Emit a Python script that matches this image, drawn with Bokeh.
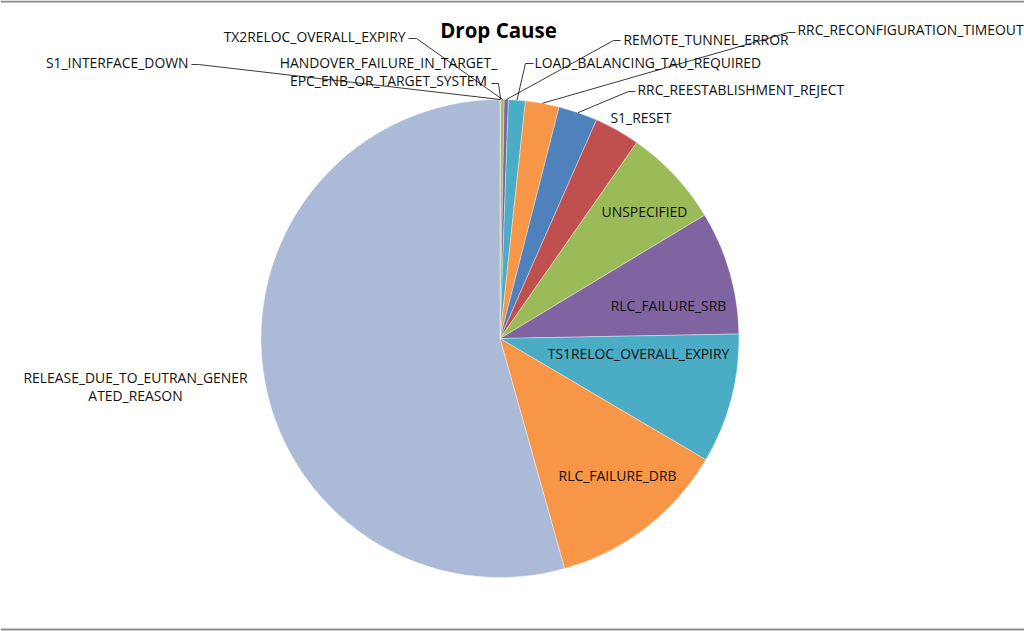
import numpy as np
from bokeh.plotting import figure
from bokeh.models import Range1d, ColumnDataSource
from bokeh.core.properties import value
from bokeh.embed import file_html
from bokeh.resources import INLINE

# ---- data (clockwise from 12 o'clock), share of drops in % ----
causes = [
    "S1_INTERFACE_DOWN",
    "HANDOVER_FAILURE_IN_TARGET_EPC_ENB_OR_TARGET_SYSTEM",
    "TX2RELOC_OVERALL_EXPIRY",
    "REMOTE_TUNNEL_ERROR",
    "LOAD_BALANCING_TAU_REQUIRED",
    "RRC_RECONFIGURATION_TIMEOUT",
    "RRC_REESTABLISHMENT_REJECT",
    "S1_RESET",
    "UNSPECIFIED",
    "RLC_FAILURE_SRB",
    "TS1RELOC_OVERALL_EXPIRY",
    "RLC_FAILURE_DRB",
    "RELEASE_DUE_TO_EUTRAN_GENERATED_REASON",
]
shares = [0.03, 0.03, 0.22, 0.28, 1.14, 2.28, 2.64, 3.08, 6.67, 8.33, 8.78, 12.17, 54.36]
colors = ["#4F81BD", "#C0504D", "#9BBB59", "#8064A2", "#4BACC6", "#F79646",
          "#4F81BD", "#C0504D", "#9BBB59", "#8064A2", "#4BACC6", "#F79646", "#AABAD7"]
title_text = "Drop Cause"

# ---- layout (screen pixels of the 1024x631 picture) ----
W, H = 1024, 631
CX, CY, R = 499.5, 338.0, 239.0
FONT = "Open Sans"
FS = "13.9px"

def Y(y):
    return -y

vals = np.array(shares, dtype=float)
frac = vals / vals.sum()
cum = np.concatenate([[0.0], np.cumsum(frac)])
start = np.pi / 2 - cum[:-1] * 2 * np.pi
end = np.pi / 2 - cum[1:] * 2 * np.pi
mid = (start + end) / 2

p = figure(width=W, height=H, output_backend="svg", toolbar_location=None,
           x_range=Range1d(0, W), y_range=Range1d(-H, 0),
           x_axis_location=None, y_axis_location=None, min_border=0,
           tools="")
p.grid.visible = False
p.outline_line_color = None
p.background_fill_color = "white"
p.border_fill_color = "white"

src = ColumnDataSource(dict(start=start, end=end, color=colors, cause=causes))
p.wedge(x=CX, y=Y(CY), radius=R, start_angle="start", end_angle="end",
        direction="clock", fill_color="color", line_color="white",
        line_width=0.6, line_alpha=0.6, source=src)

# labels: (cause index, lines, anchor x, anchor y of first line, align, leader points)
labels = [
    (0, ["S1_INTERFACE_DOWN"], 188, 62, "right", [(191, 64), (198, 64)]),
    (1, ["HANDOVER_FAILURE_IN_TARGET_", "EPC_ENB_OR_TARGET_SYSTEM"], 388, 62, "center",
     [(491, 83), (498, 83)]),
    (2, ["TX2RELOC_OVERALL_EXPIRY"], 405, 36, "right", [(408, 38), (416, 38)]),
    (3, ["REMOTE_TUNNEL_ERROR"], 623, 39, "left", [(620, 40), (613, 40)]),
    (4, ["LOAD_BALANCING_TAU_REQUIRED"], 534, 62, "left", [(533, 63), (525, 63)]),
    (5, ["RRC_RECONFIGURATION_TIMEOUT"], 797, 29, "left", [(795, 32), (788, 32)]),
    (6, ["RRC_REESTABLISHMENT_REJECT"], 637, 89, "left", [(635, 91), (628, 91)]),
    (7, ["S1_RESET"], 610, 117, "left", None),
    (8, ["UNSPECIFIED"], 644, 211, "center", None),
    (9, ["RLC_FAILURE_SRB"], 668, 305, "center", None),
    (10, ["TS1RELOC_OVERALL_EXPIRY"], 638, 353, "center", None),
    (11, ["RLC_FAILURE_DRB"], 617, 475, "center", None),
    (12, ["RELEASE_DUE_TO_EUTRAN_GENER", "ATED_REASON"], 135, 377, "center", None),
]

tx, ty, tt, ta = [], [], [], []
lx, ly = [], []
for idx, lines, ax, ay, al, lead in labels:
    for k, line in enumerate(lines):
        tx.append(ax)
        ty.append(Y(ay + 18 * k))
        tt.append(line)
        ta.append(al)
    if lead:
        rx = CX + R * np.cos(mid[idx])
        ry = CY - R * np.sin(mid[idx])
        lx.append([pt[0] for pt in lead] + [rx])
        ly.append([Y(pt[1]) for pt in lead] + [Y(ry)])

p.multi_line(xs=lx, ys=ly, line_color="#222222", line_width=0.9)

tsrc = ColumnDataSource(dict(x=tx, y=ty, text=tt, align=ta))
p.text(x="x", y="y", text="text", text_align="align", text_baseline="middle",
       text_font=value(FONT), text_font_size=FS, text_color="#111111", source=tsrc)

p.text(x=[498], y=[Y(29)], text=[title_text], text_align="center",
       text_baseline="middle", text_font=value(FONT), text_font_size="20.5px",
       text_font_style="bold", text_color="#000000")

# thin grey frame lines at top and bottom of the chart area
p.segment(x0=[0, 0], y0=[Y(1), Y(629)], x1=[W, W], y1=[Y(1), Y(629)],
          line_color="#8c8c8c", line_width=2)

open("out.html", "w").write(file_html(p, INLINE))
